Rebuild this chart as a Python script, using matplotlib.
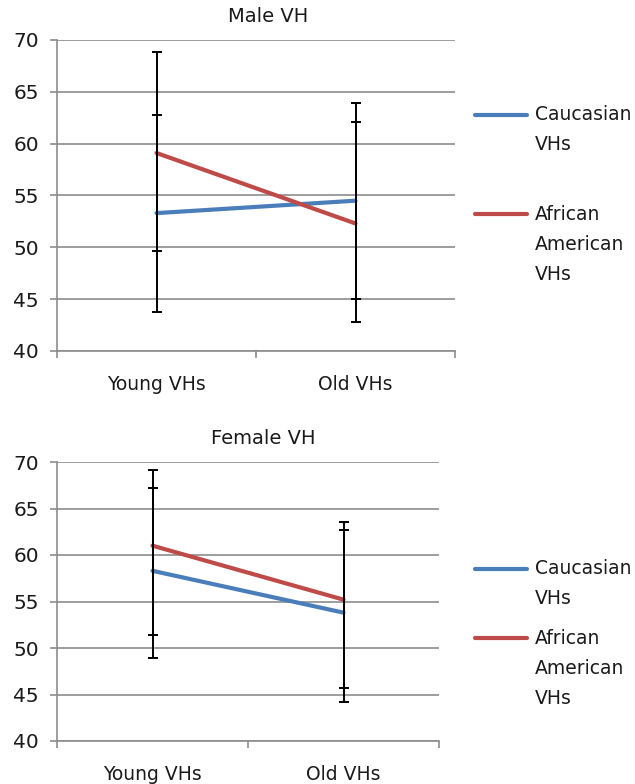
import matplotlib.pyplot as plt
from matplotlib.lines import Line2D
import numpy as np

## data
groups = ["Young VHs", "Old VHs"]
series = ["Caucasian\nVHs", "African\nAmerican\nVHs"]
colors = ["#4A7EBB", "#BE4B48"]

male_cauc = [53.3, 54.5]
male_cauc_up = [9.5, 9.4]
male_cauc_down = [9.5, 9.5]
male_afr = [59.1, 52.3]
male_afr_up = [9.7, 9.8]
male_afr_down = [9.5, 9.5]

female_cauc = [58.3, 53.8]
female_cauc_up = [8.9, 8.9]
female_cauc_down = [9.4, 9.6]
female_afr = [61.0, 55.2]
female_afr_up = [8.1, 8.4]
female_afr_down = [9.6, 9.5]

W, H = 635, 784
fig = plt.figure(figsize=(W / 100, H / 100), dpi=100)
plt.rcParams['font.family'] = ['DejaVu Sans']
grid_col = "#8C8C8C"
text_col = "#1A1A1A"


def px_axes(l, r, t, b):
    return fig.add_axes([l / W, 1 - b / H, (r - l) / W, (b - t) / H])


def draw(ax, title, title_x, title_y, cauc, cu, cd, afr, au, ad, leg_y):
    x = np.arange(len(groups)) + 0.5
    ax.plot(x, cauc, color=colors[0], lw=3, solid_capstyle="round", zorder=3)
    ax.plot(x, afr, color=colors[1], lw=3, solid_capstyle="round", zorder=3)
    ax.errorbar(x, cauc, yerr=[cd, cu], fmt="none", ecolor="black",
                elinewidth=1.4, capsize=3.3, capthick=1.4, zorder=4)
    ax.errorbar(x, afr, yerr=[ad, au], fmt="none", ecolor="black",
                elinewidth=1.4, capsize=3.3, capthick=1.4, zorder=4)
    ax.set_xlim(0, len(groups))
    ax.set_ylim(40, 70)
    ax.set_yticks(np.arange(40, 71, 5))
    ax.set_xticks(np.arange(0, len(groups) + 1))
    ax.set_xticklabels([])
    ax.set_xticks(x, minor=True)
    ax.set_xticklabels(groups, minor=True)
    ax.tick_params(axis="x", which="minor", length=0, pad=17, labelsize=13.5,
                   labelcolor=text_col)
    ax.tick_params(axis="x", which="major", length=5, color=grid_col, width=1.2)
    ax.tick_params(axis="y", length=5, color=grid_col, width=1.2, pad=8,
                   labelsize=14.5, labelcolor=text_col)
    ax.grid(axis="y", color=grid_col, lw=1.2)
    ax.set_axisbelow(True)
    for s in ["top", "right"]:
        ax.spines[s].set_visible(False)
    for s in ["left", "bottom"]:
        ax.spines[s].set_color(grid_col)
        ax.spines[s].set_linewidth(1.2)
    fig.text(title_x / W, 1 - title_y / H, title, ha="center", va="center",
             fontsize=14, color=text_col)
    # legend
    for i, lab in enumerate(series):
        y0 = leg_y[i]
        fig.add_artist(Line2D([475 / W, 527 / W], [1 - y0 / H, 1 - y0 / H],
                              color=colors[i], lw=3, solid_capstyle="round"))
        for j, part in enumerate(lab.split("\n")):
            fig.text(535 / W, 1 - (y0 + j * 30) / H, part, ha="left",
                     va="center", fontsize=13.5, color=text_col)


ax1 = px_axes(57, 455, 40, 351)
draw(ax1, "Male VH", 268, 17, male_cauc, male_cauc_up, male_cauc_down,
     male_afr, male_afr_up, male_afr_down, [115, 214])

ax2 = px_axes(57, 439, 462, 741)
draw(ax2, "Female VH", 263, 439, female_cauc, female_cauc_up, female_cauc_down,
     female_afr, female_afr_up, female_afr_down, [569, 638])

plt.savefig("out.png", dpi=100)
